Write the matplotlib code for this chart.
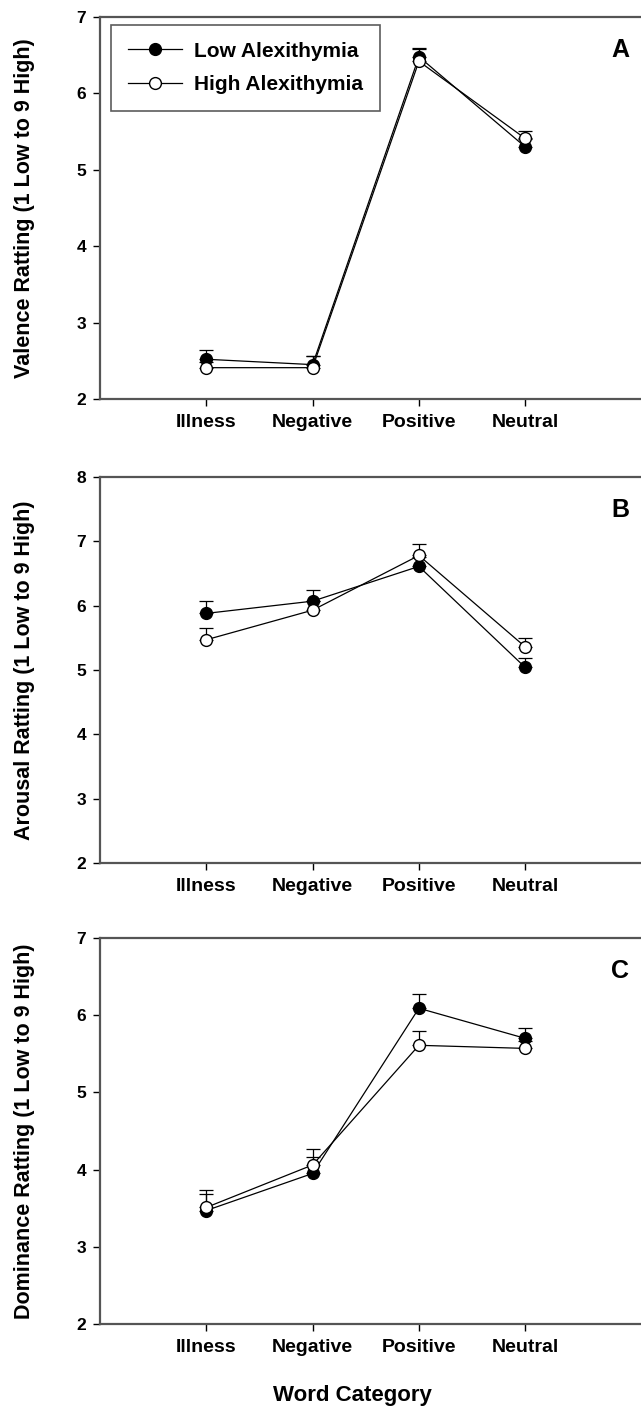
import matplotlib.pyplot as plt
from matplotlib.lines import Line2D
import numpy as np

# word categories
categories = ["Illness", "Negative", "Positive", "Neutral"]

# panel A - valence
valence_low = [2.52, 2.45, 6.48, 5.30]
valence_low_err = [0.12, 0.11, 0.12, 0.10]
valence_high = [2.41, 2.41, 6.42, 5.41]
valence_high_err = [0.08, 0.15, 0.16, 0.10]

# panel B - arousal
arousal_low = [5.88, 6.07, 6.61, 5.04]
arousal_low_err = [0.20, 0.17, 0.15, 0.14]
arousal_high = [5.47, 5.93, 6.78, 5.36]
arousal_high_err = [0.18, 0.15, 0.18, 0.13]

# panel C - dominance
dominance_low = [3.47, 3.95, 6.09, 5.70]
dominance_low_err = [0.22, 0.21, 0.19, 0.13]
dominance_high = [3.51, 4.06, 5.61, 5.57]
dominance_high_err = [0.23, 0.21, 0.19, 0.10]

panels = [
    ("A", "Valence Ratting (1 Low to 9 High)", valence_low, valence_low_err,
     valence_high, valence_high_err, (2, 7), 17, 399),
    ("B", "Arousal Ratting (1 Low to 9 High)", arousal_low, arousal_low_err,
     arousal_high, arousal_high_err, (2, 8), 477, 863),
    ("C", "Dominance Ratting (1 Low to 9 High)", dominance_low, dominance_low_err,
     dominance_high, dominance_high_err, (2, 7), 938, 1324),
]

W, H = 641, 1408
fig = plt.figure(figsize=(W / 100, H / 100), dpi=100)
plt.rcParams["font.family"] = ["Liberation Sans", "DejaVu Sans"]

x = np.arange(1, len(categories) + 1)
left_px = 100
unit_px = 106.3
xmax = 5.2

for letter, ylabel, low, low_err, high, high_err, ylim, top_px, bot_px in panels:
    ax = fig.add_axes([left_px / W, 1 - bot_px / H, xmax * unit_px / W, (bot_px - top_px) / H])

    ax.errorbar(x, low, yerr=[np.zeros(len(low)), low_err], color="black", lw=0.9,
                marker="o", markersize=8.5, markerfacecolor="black", markeredgecolor="black",
                capsize=5, elinewidth=0.9, capthick=0.9, zorder=3)
    ax.errorbar(x, high, yerr=[np.zeros(len(high)), high_err], color="black", lw=0.9,
                marker="o", markersize=8.5, markerfacecolor="white", markeredgecolor="black",
                capsize=5, elinewidth=0.9, capthick=0.9, zorder=4)

    ax.set_xlim(0, xmax)
    ax.set_ylim(*ylim)
    ax.set_xticks(x)
    ax.set_xticklabels(categories, fontsize=14, fontweight="bold")
    ax.set_yticks(np.arange(ylim[0], ylim[1] + 1))
    ax.tick_params(axis="y", labelsize=12.5, direction="out", length=5, width=1, pad=5)
    ax.tick_params(axis="x", direction="out", length=5, width=1, pad=6)
    for lab in ax.get_yticklabels():
        lab.set_fontweight("bold")
    for side in ["left", "bottom", "top"]:
        ax.spines[side].set_color("#555555")
        ax.spines[side].set_linewidth(1.6)
    ax.spines["right"].set_visible(False)

    fig.text(25 / W, 1 - (top_px + bot_px) / 2 / H, ylabel, rotation=90, ha="center",
             va="center", fontsize=15.5, fontweight="bold")
    fig.text(620 / W, 1 - (top_px + 33) / H, letter, ha="center", va="center",
             fontsize=18, fontweight="bold")

    if letter == "A":
        handles = [
            Line2D([], [], color="black", lw=0.9, marker="o", markersize=8.5,
                   markerfacecolor="black", markeredgecolor="black"),
            Line2D([], [], color="black", lw=0.9, marker="o", markersize=8.5,
                   markerfacecolor="white", markeredgecolor="black"),
        ]
        leg = ax.legend(handles, ["Low Alexithymia", "High Alexithymia"],
                        loc="upper left", bbox_to_anchor=(0.02, 0.979), borderaxespad=0,
                        fancybox=False, frameon=True, edgecolor="#333333", handlelength=2.6,
                        handletextpad=0.6, borderpad=0.8, labelspacing=0.7,
                        prop={"size": 15, "weight": "bold"})
        leg.get_frame().set_linewidth(1.2)

fig.text(352 / W, 1 - 1395 / H, "Word Category", ha="center", va="center",
         fontsize=16, fontweight="bold")

fig.savefig("out.png", dpi=100)
